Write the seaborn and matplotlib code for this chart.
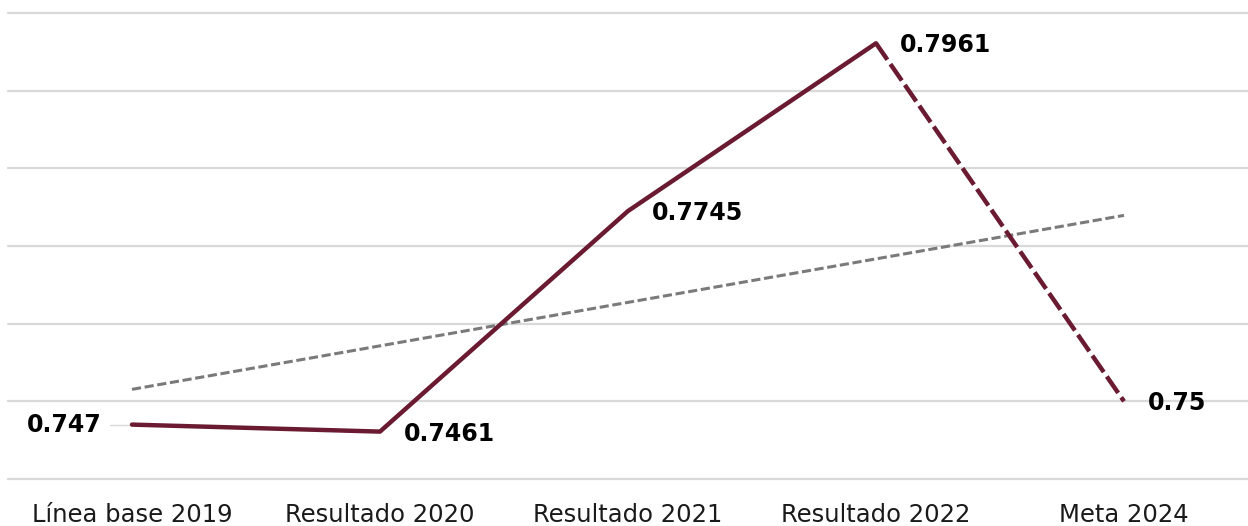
import pandas as pd
import matplotlib
matplotlib.use('Agg')
import matplotlib.pyplot as plt
import seaborn as sns

# 데이터
categorias = ['Línea base 2019', 'Resultado 2020', 'Resultado 2021', 'Resultado 2022', 'Meta 2024']
valores = [0.747, 0.7461, 0.7745, 0.7961, 0.75]
etiquetas = ['0.747', '0.7461', '0.7745', '0.7961', '0.75']

df = pd.DataFrame({'x': range(len(categorias)), 'valor': valores})

sns.set_style('white')
plt.rcParams['font.family'] = ['DejaVu Sans']

color_linea = '#6a1b31'

fig = plt.figure(figsize=(12.48, 5.26), dpi=100)
ax = fig.add_axes([0.0064, 0.0894, 0.9936, 0.8859])

# 눈금선
for v in [0.74, 0.75, 0.76, 0.77, 0.78, 0.79, 0.80]:
    ax.axhline(v, color='#d9d9d9', linewidth=1.6, zorder=0, clip_on=False)

# 추세선
sns.regplot(x='x', y='valor', data=df, scatter=False, ci=None, ax=ax,
            line_kws={'color': '#7a7a7a', 'linewidth': 2.2, 'linestyle': (0, (3, 1.2)), 'zorder': 2})

# 실선 부분 (2019-2022)
sns.lineplot(x='x', y='valor', data=df.iloc[:4], ax=ax, color=color_linea,
             linewidth=3.2, zorder=3)
# 점선 부분 (2022-2024)
sns.lineplot(x='x', y='valor', data=df.iloc[3:], ax=ax, color=color_linea,
             linewidth=3.2, linestyle=(0, (4.5, 1.2)), zorder=3)

# 데이터 레이블
for i, (v, t) in enumerate(zip(valores, etiquetas)):
    if i == 0:
        ax.annotate(t, (i, v), xytext=(-30, 0), textcoords='offset pixels',
                    ha='right', va='center', fontsize=17, fontweight='bold', color='black')
        ax.plot([i - 0.09, i - 0.01], [v, v], color='#d9d9d9', linewidth=1, zorder=1)
    else:
        ax.annotate(t, (i, v), xytext=(24, -2), textcoords='offset pixels',
                    ha='left', va='center', fontsize=17, fontweight='bold', color='black')

ax.set_xlim(-0.5, 4.5)
ax.set_ylim(0.74, 0.80)
ax.set_xticks(range(len(categorias)))
ax.set_xticklabels(categorias, fontsize=17.5, color='#1a1a1a')
ax.set_yticks([])
ax.tick_params(axis='x', length=0, pad=17)
ax.set_xlabel('')
ax.set_ylabel('')
sns.despine(ax=ax, left=True, bottom=True, top=True, right=True)

plt.savefig('out.png', dpi=100)
